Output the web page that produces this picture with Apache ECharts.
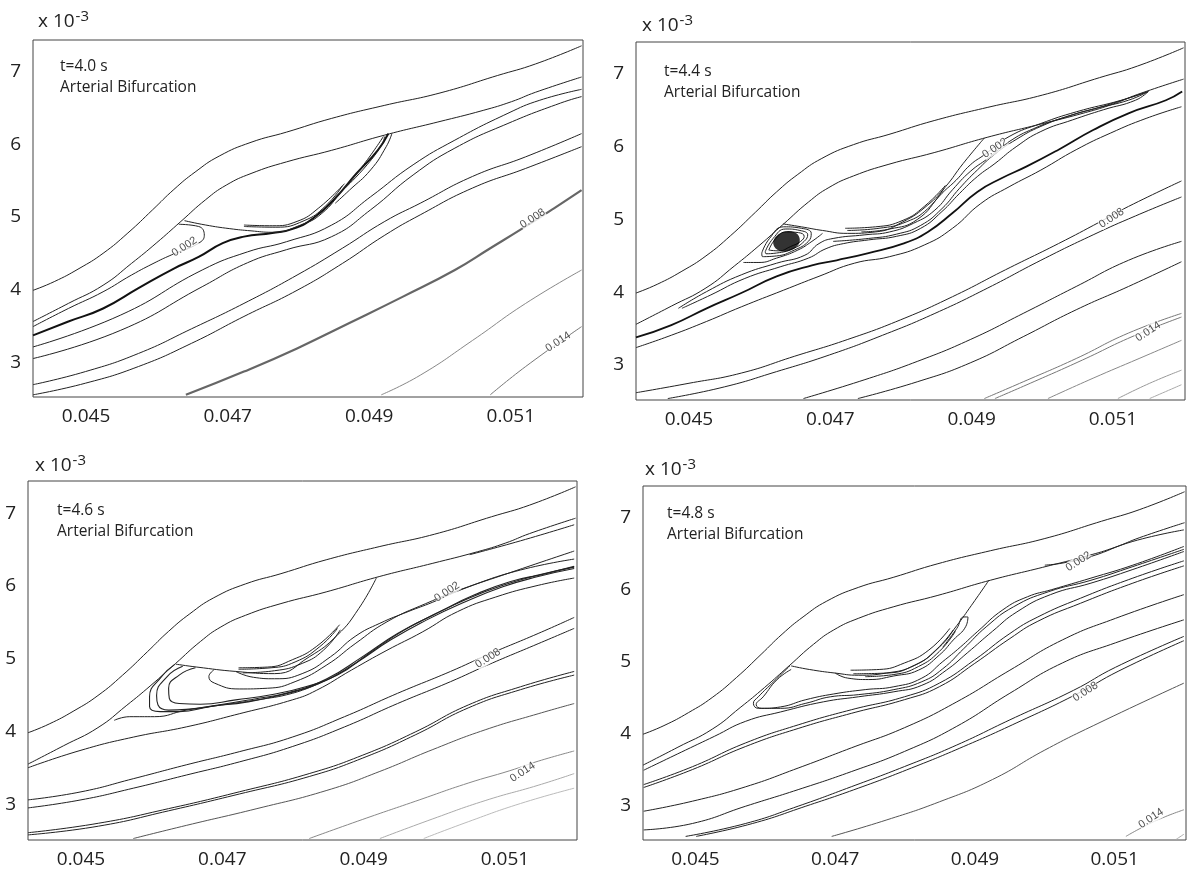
<!DOCTYPE html>
<html><head><meta charset="utf-8">
<style>html,body{margin:0;padding:0;background:#fff}#c{width:1200px;height:873px}</style>
<script src="https://cdn.jsdelivr.net/npm/echarts@6/dist/echarts.min.js"></script>
</head><body><div id="c"></div>
<script>
// All coordinates are data values: x and y in units of 10^-3.
const xTicks=[45,47,49,51];
const yTicks=[3,4,5,6,7];
const times=['t=4.0 s','t=4.4 s','t=4.6 s','t=4.8 s'];
const subtitle='Arterial Bifurcation';
const contourNames=['0.002','0.008','0.014'];

const wallTop=[[44.25,3.99],[44.55,4.11],[44.9,4.29],[45.24,4.5],[45.59,4.78],[45.94,5.1],[46.24,5.38],[46.54,5.62],[46.88,5.84],[47.33,6.03],[47.83,6.17],[48.47,6.36],[49.22,6.54],[50.0,6.71],[50.81,6.95],[51.35,7.11],[52.0,7.36]];
const wallLower=[[44.25,3.56],[44.75,3.81],[45.24,4.06],[45.64,4.36],[45.99,4.64],[46.34,4.94],[46.69,5.24],[46.98,5.44],[47.33,5.6],[47.83,5.76],[48.47,5.92],[49.22,6.13],[49.97,6.31],[50.61,6.47],[51.01,6.59],[51.35,6.72],[52.0,6.93]];

const p1Lines=[
 [[44.25,3.49],[44.75,3.74],[45.24,3.97],[45.64,4.2],[45.99,4.38],[46.21,4.48],[46.59,4.64],[46.67,4.75],[46.59,4.87],[46.31,4.9]],
 [[44.25,3.37],[44.75,3.56],[45.24,3.74],[45.74,4.02],[46.24,4.29],[46.59,4.45],[46.93,4.64],[47.23,4.73],[47.63,4.78],[47.93,4.84],[48.23,5.0],[48.52,5.26],[48.82,5.6],[49.12,5.92],[49.27,6.15]],
 [[46.39,4.95],[46.69,4.89],[47.03,4.84],[47.33,4.81],[47.63,4.79],[48.03,4.89],[48.33,5.05],[48.62,5.37],[48.92,5.72],[49.2,6.11]],
 [[47.23,4.89],[47.63,4.88],[47.98,4.94],[48.28,5.12],[48.65,5.46]],
 [[47.23,4.87],[47.68,4.86],[48.08,4.95],[48.38,5.15],[48.62,5.43]],
 [[49.32,6.15],[49.24,5.97],[49.02,5.65],[48.72,5.37],[48.52,5.19]],
 [[49.22,6.11],[49.17,5.99],[48.97,5.72],[48.67,5.41]],
 [[44.25,3.21],[45.49,3.65],[46.64,4.27],[47.28,4.52],[47.83,4.66],[48.47,4.89],[49.02,5.28],[49.62,5.72],[50.21,6.06],[50.96,6.43],[51.41,6.61],[52.0,6.76]],
 [[44.25,3.05],[45.49,3.44],[46.64,4.04],[47.28,4.37],[47.83,4.55],[48.47,4.73],[49.02,5.1],[49.62,5.58],[50.21,5.95],[50.96,6.29],[51.7,6.57],[52.0,6.66]],
 [[44.25,2.69],[44.99,2.87],[45.74,3.12],[46.49,3.46],[47.23,3.81],[47.98,4.2],[48.62,4.57],[49.22,4.94],[49.72,5.19],[50.46,5.56],[51.21,5.83],[52.0,6.15]],
 [[44.25,2.55],[44.99,2.71],[45.74,2.94],[46.49,3.26],[47.23,3.63],[47.98,3.99],[48.62,4.36],[49.22,4.75],[49.72,5.03],[50.46,5.4],[51.21,5.67],[52.0,5.97]],
 [[46.41,2.55],[47.23,2.87],[47.98,3.19],[48.72,3.54],[49.47,3.9],[50.21,4.27],[50.71,4.57],[51.16,4.84],[51.61,5.12],[52.0,5.37]],
 [[49.17,2.55],[49.72,2.82],[50.46,3.3],[51.21,3.81],[52.0,4.27]],
 [[50.71,2.55],[51.21,2.94],[52.0,3.49]]
];
const p1LabelPos=[[46.39,4.59],[51.31,4.98],[51.67,3.28]];

const p2Lines=[
 [[44.85,3.78],[45.25,4.01],[45.74,4.24],[46.24,4.4],[46.64,4.51],[46.84,4.67],[47.04,4.74],[47.49,4.79],[47.84,4.83],[48.18,4.95],[48.48,5.13],[48.73,5.41],[48.98,5.66],[49.23,5.84],[49.53,6.07],[49.88,6.25],[50.33,6.41],[50.77,6.53],[51.22,6.64],[51.5,6.76]],
 [[44.9,3.78],[45.3,3.96],[45.79,4.19],[46.29,4.35],[46.69,4.47],[46.94,4.6],[47.19,4.67],[47.54,4.72],[47.94,4.77],[48.28,4.88],[48.58,5.11],[48.83,5.36],[49.08,5.59],[49.33,5.77],[49.63,6.0],[49.98,6.21],[50.43,6.37],[50.87,6.51],[51.32,6.64],[51.5,6.76]],
 [[47.04,4.7],[47.54,4.74],[47.94,4.8],[48.28,4.92],[48.58,5.15],[48.83,5.43],[49.08,5.68],[49.33,5.9],[49.63,6.1],[49.98,6.28],[50.43,6.44],[50.87,6.56],[51.5,6.76]],
 [[46.33,4.94],[46.59,4.9],[46.89,4.85],[47.24,4.81],[47.64,4.83],[48.03,4.97],[48.38,5.2],[48.63,5.45],[48.88,5.77],[49.18,6.12]],
 [[47.21,4.88],[47.64,4.9],[48.03,4.99],[48.33,5.18],[48.63,5.47]],
 [[47.24,4.85],[47.69,4.88],[48.08,4.97],[48.38,5.15],[48.61,5.43]],
 [[47.44,4.83],[47.84,4.87],[48.23,5.0],[48.58,5.36],[48.78,5.54],[48.98,5.75],[49.18,5.89],[49.53,6.14],[49.98,6.32],[50.48,6.48],[51.12,6.64],[51.5,6.76]],
 [[45.77,4.41],[45.99,4.41],[46.24,4.47],[46.54,4.58],[46.74,4.7],[46.89,4.81]],
 [[46.03,4.54],[46.14,4.74],[46.34,4.9],[46.59,4.88],[46.73,4.81],[46.69,4.7],[46.49,4.58],[46.24,4.5],[46.04,4.49],[46.03,4.54]],
 [[46.08,4.56],[46.19,4.74],[46.37,4.87],[46.57,4.85],[46.68,4.79],[46.63,4.7],[46.47,4.6],[46.24,4.54],[46.09,4.53],[46.08,4.56]],
 [[46.13,4.58],[46.23,4.74],[46.38,4.83],[46.55,4.82],[46.63,4.77],[46.58,4.7],[46.44,4.63],[46.27,4.57],[46.13,4.58]],
 [[44.25,3.38],[44.75,3.55],[45.25,3.78],[45.74,3.99],[46.24,4.22],[46.74,4.37],[47.09,4.44],[47.54,4.54],[48.03,4.67],[48.38,4.83],[48.73,5.09],[49.08,5.38],[49.43,5.57],[49.78,5.73],[50.23,5.96],[50.72,6.23],[51.22,6.46],[51.75,6.64],[51.98,6.76]],
 [[44.25,3.24],[44.75,3.41],[45.25,3.6],[45.74,3.8],[46.34,4.03],[46.84,4.22],[47.34,4.4],[47.84,4.49],[48.33,4.65],[48.73,4.88],[49.13,5.22],[49.53,5.45],[49.98,5.68],[50.48,5.96],[50.97,6.19],[51.47,6.39],[51.97,6.55]],
 [[44.25,2.62],[45.0,2.75],[45.74,2.89],[46.49,3.12],[47.24,3.35],[47.99,3.62],[48.73,3.94],[49.48,4.31],[50.23,4.67],[50.82,4.97],[51.22,5.18],[51.97,5.53]],
 [[44.7,2.54],[45.5,2.7],[46.24,2.91],[46.99,3.14],[47.74,3.41],[48.48,3.71],[49.23,4.06],[49.98,4.44],[50.72,4.79],[51.32,5.05],[51.97,5.31]],
 [[46.62,2.54],[47.49,2.8],[48.23,3.05],[48.98,3.35],[49.73,3.71],[50.48,4.08],[51.22,4.44],[51.97,4.7]],
 [[47.39,2.54],[48.23,2.77],[48.98,3.03],[49.73,3.39],[50.48,3.76],[51.22,4.08],[51.97,4.42]],
 [[49.18,2.54],[49.73,2.77],[50.48,3.09],[51.22,3.44],[51.97,3.71]],
 [[49.33,2.54],[49.83,2.75],[50.57,3.07],[51.27,3.39],[51.97,3.66]],
 [[50.08,2.54],[50.72,2.82],[51.37,3.09],[51.97,3.34]],
 [[51.07,2.54],[51.52,2.75],[51.97,2.93]],
 [[51.52,2.54],[51.97,2.73]]
];
const p2LabelPos=[[49.33,5.98],[50.98,5.02],[51.5,3.46]];
const p2Vortex=[[46.38,4.7]];

const p3Lines=[
 [[44.25,3.51],[45.0,3.75],[45.74,3.93],[46.49,4.07],[47.24,4.25],[47.99,4.44],[48.33,4.57],[48.83,4.85],[49.33,5.12],[49.83,5.37],[50.33,5.65],[50.87,5.85],[51.47,6.01],[51.98,6.11]],
 [[46.32,4.92],[46.14,4.76],[45.97,4.48],[45.97,4.35],[46.12,4.28],[46.39,4.28],[46.84,4.35],[47.34,4.41],[47.84,4.51],[48.38,4.67],[48.88,4.94],[49.38,5.26],[49.88,5.53],[50.38,5.76],[50.97,5.99],[51.47,6.13],[51.98,6.24]],
 [[46.44,4.9],[46.22,4.76],[46.07,4.5],[46.09,4.37],[46.24,4.3],[46.49,4.31],[46.94,4.37],[47.44,4.45],[47.94,4.54],[48.48,4.73],[48.98,5.03],[49.48,5.35],[49.98,5.6],[50.48,5.83],[50.97,6.01],[51.47,6.15],[51.98,6.26]],
 [[46.62,4.88],[46.39,4.78],[46.24,4.6],[46.25,4.46],[46.39,4.39],[46.69,4.38],[47.19,4.44],[47.69,4.51],[48.18,4.62],[48.63,4.78],[49.08,5.08],[49.58,5.4],[50.08,5.65],[50.57,5.88],[51.07,6.06],[51.57,6.17],[51.98,6.27]],
 [[46.88,4.85],[46.81,4.76],[46.89,4.67],[47.24,4.59],[47.64,4.6],[48.03,4.69],[48.48,4.92],[48.88,5.21],[49.33,5.51],[49.88,5.76],[50.48,5.99],[51.22,6.22],[51.98,6.37]],
 [[47.19,4.83],[47.44,4.75],[47.74,4.73],[48.13,4.8],[48.53,5.03],[48.88,5.31],[49.23,5.49],[49.63,5.65],[49.98,5.78],[50.38,5.95],[50.97,6.15],[51.98,6.48]],
 [[46.34,4.93],[46.64,4.89],[47.19,4.83],[47.74,4.8],[48.23,5.03],[48.63,5.33],[48.93,5.69],[49.18,6.11]],
 [[47.23,4.88],[47.64,4.89],[47.99,4.99],[48.33,5.17],[48.66,5.47]],
 [[47.23,4.86],[47.69,4.88],[48.03,4.96],[48.38,5.17],[48.63,5.42]],
 [[47.29,4.81],[47.74,4.84],[48.13,4.94],[48.43,5.12],[48.67,5.4]],
 [[45.47,4.16],[45.69,4.21],[46.04,4.21],[46.49,4.3],[46.99,4.37],[47.49,4.44],[47.99,4.53],[48.38,4.67]],
 [[50.5,6.43],[51.22,6.62],[51.98,6.84]],
 [[44.25,3.07],[45.0,3.18],[45.74,3.36],[46.49,3.55],[47.24,3.73],[47.99,3.93],[48.73,4.21],[49.48,4.53],[50.23,4.83],[50.76,5.06],[51.47,5.35],[51.98,5.57]],
 [[44.25,2.96],[45.0,3.07],[45.74,3.23],[46.49,3.41],[47.24,3.59],[47.99,3.8],[48.73,4.07],[49.48,4.39],[50.23,4.69],[50.76,4.92],[51.47,5.21],[51.98,5.42]],
 [[44.25,2.62],[45.25,2.75],[46.24,2.95],[47.24,3.18],[48.23,3.43],[48.98,3.68],[49.73,4.0],[50.48,4.37],[51.22,4.62],[51.98,4.83]],
 [[44.25,2.59],[45.25,2.71],[46.24,2.92],[47.24,3.15],[48.23,3.39],[48.98,3.64],[49.73,3.96],[50.48,4.33],[51.22,4.58],[51.98,4.78]],
 [[45.74,2.54],[46.49,2.72],[47.49,2.95],[48.48,3.2],[49.23,3.46],[49.98,3.76],[50.72,4.03],[51.47,4.25],[51.98,4.39]],
 [[48.23,2.54],[48.98,2.8],[49.73,3.05],[50.48,3.3],[51.07,3.47],[51.47,3.6],[51.98,3.74]],
 [[49.23,2.54],[49.98,2.81],[50.72,3.06],[51.47,3.27],[51.98,3.43]],
 [[49.85,2.54],[50.48,2.77],[51.22,3.02],[51.98,3.23]]
];
const p3LabelPos=[[50.18,5.92],[50.76,5.01],[51.25,3.45]];

const p4Lines=[
 [[50.0,6.34],[50.26,6.37],[50.66,6.46],[51.26,6.67],[51.99,6.83]],
 [[46.37,4.94],[46.63,4.89],[47.0,4.84],[47.33,4.81],[47.73,4.84],[48.14,4.95],[48.49,5.2],[48.74,5.5],[48.92,5.74],[49.2,6.13]],
 [[47.22,4.88],[47.63,4.89],[47.99,4.98],[48.34,5.16],[48.64,5.46]],
 [[47.26,4.83],[47.73,4.84],[48.14,4.95],[48.44,5.16],[48.69,5.44]],
 [[47.43,4.79],[47.84,4.82],[48.19,4.93],[48.49,5.14],[48.72,5.42]],
 [[47.0,4.84],[47.18,4.77],[47.48,4.75],[47.84,4.8],[48.19,4.88],[48.49,5.09],[48.69,5.3],[48.87,5.49],[48.9,5.62],[48.84,5.62],[48.74,5.46],[48.54,5.2]],
 [[46.37,4.89],[46.17,4.75],[45.97,4.51],[45.87,4.4],[45.95,4.35],[46.22,4.37],[46.58,4.47],[46.98,4.55],[47.43,4.61],[47.84,4.65],[48.24,4.77],[48.54,5.0],[48.79,5.2],[49.04,5.42],[49.4,5.72],[49.75,5.9],[50.1,6.0],[50.66,6.16],[51.26,6.34],[51.99,6.6]],
 [[46.35,4.94],[46.12,4.72],[45.9,4.51],[45.83,4.42],[45.9,4.35],[46.22,4.35],[46.58,4.42],[46.93,4.51],[47.33,4.54],[47.84,4.61],[48.24,4.72],[48.54,4.9],[48.84,5.18],[49.17,5.49],[49.55,5.76],[50.05,5.97],[50.66,6.13],[51.26,6.32],[51.99,6.56]],
 [[44.26,3.49],[44.86,3.77],[45.27,3.96],[45.72,4.17],[46.22,4.3],[46.83,4.44],[47.33,4.51],[47.84,4.58],[48.24,4.67],[48.59,4.88],[48.89,5.12],[49.25,5.42],[49.6,5.69],[50.08,5.93],[50.66,6.09],[51.26,6.28],[51.99,6.53]],
 [[44.26,3.29],[44.96,3.54],[45.72,3.87],[46.47,4.12],[47.23,4.33],[47.99,4.51],[48.49,4.7],[48.99,5.02],[49.5,5.39],[49.9,5.62],[50.51,5.88],[51.26,6.16],[51.99,6.4]],
 [[44.26,3.25],[44.96,3.5],[45.72,3.82],[46.47,4.07],[47.23,4.28],[47.99,4.47],[48.49,4.65],[48.99,4.97],[49.5,5.32],[49.9,5.56],[50.51,5.81],[51.26,6.09],[51.99,6.33]],
 [[44.26,2.92],[44.96,3.06],[45.72,3.26],[46.47,3.52],[47.23,3.8],[47.99,4.08],[48.74,4.44],[49.5,4.88],[50.25,5.3],[51.01,5.6],[51.99,5.93]],
 [[44.26,2.66],[44.96,2.75],[45.72,2.99],[46.47,3.22],[47.23,3.47],[47.99,3.75],[48.74,4.1],[49.5,4.56],[50.25,4.98],[51.01,5.26],[51.99,5.58]],
 [[44.86,2.57],[45.72,2.75],[46.47,2.99],[47.23,3.26],[47.99,3.54],[48.74,3.84],[49.5,4.19],[50.41,4.6],[51.01,4.92],[51.99,5.35]],
 [[45.01,2.57],[45.82,2.75],[46.58,2.99],[47.33,3.24],[48.09,3.52],[48.84,3.82],[49.6,4.15],[50.46,4.55],[51.06,4.87],[51.99,5.29]],
 [[46.95,2.57],[47.74,2.8],[48.49,3.05],[49.25,3.36],[50.0,3.77],[50.76,4.14],[51.99,4.7]],
 [[51.16,2.57],[51.57,2.78],[51.99,2.94]],
 [[51.88,2.53],[51.99,2.6]]
];
const p4LabelPos=[[50.48,6.39],[50.58,4.58],[51.52,2.82]];

// ---- layout and styling ----
const xRange=[44.25,52.02], yRange=[2.52,7.44];
const frames=[
 {l:33,t:40,r:583,b:397,note:[60,59],exp:[38,9],dy:2},
 {l:636,t:42,r:1185,b:400,note:[664,64],exp:[642,13],dy:4},
 {l:28,t:481,r:577,b:840,note:[57,503],exp:[35,453],dy:2},
 {l:643,t:486,r:1186,b:840,note:[667,506],exp:[645,457],dy:2}
];
const allLines=[p1Lines,p2Lines,p3Lines,p4Lines];
const allLabels=[p1LabelPos,p2LabelPos,p3LabelPos,p4LabelPos];
// index -> [width,color] overrides
const heavy=[
 {1:[2,'#111'],11:[2.2,'#666'],12:[1,'#888'],13:[1,'#777']},
 {11:[1.8,'#111'],17:[1,'#777'],18:[1,'#777'],19:[1,'#888'],20:[1,'#999'],21:[1,'#aaa']},
 {1:[1.1,'#222'],2:[1.1,'#222'],3:[1.1,'#222'],16:[1,'#555'],17:[1,'#888'],18:[1,'#aaa'],19:[1,'#bbb']},
 {15:[1,'#555'],16:[1,'#888'],17:[1,'#aaa']}
];
const grids=[],xAxes=[],yAxes=[],series=[],titles=[];
const base={type:'line',showSymbol:false,symbol:'none',smooth:0.5,silent:true,animation:false,z:2};
frames.forEach((f,i)=>{
 grids.push({left:f.l,top:f.t,width:f.r-f.l,height:f.b-f.t,show:true,borderColor:'#444',borderWidth:1,backgroundColor:'#fff'});
 const axisFont={fontFamily:'Open Sans',fontSize:19,color:'#222'};
 xAxes.push({type:'value',gridIndex:i,min:xRange[0],max:xRange[1],axisLine:{show:false},axisTick:{show:false},splitLine:{show:false},
   axisLabel:Object.assign({customValues:xTicks,margin:10,formatter:v=>(v/1000).toFixed(3)},axisFont)});
 yAxes.push({type:'value',gridIndex:i,min:yRange[0],max:yRange[1],axisLine:{show:false},axisTick:{show:false},splitLine:{show:false},
   axisLabel:Object.assign({customValues:yTicks,margin:12,padding:[f.dy*2,0,0,0],formatter:v=>String(v)},axisFont)});
 const add=(data,w,c)=>series.push(Object.assign({},base,{xAxisIndex:i,yAxisIndex:i,data:data,lineStyle:{width:w,color:c}}));
 add(wallTop,1,'#222'); add(wallLower,1,'#222');
 allLines[i].forEach((d,k)=>{const h=heavy[i][k]||[1,'#222'];add(d,h[0],h[1]);});
 series.push({type:'scatter',xAxisIndex:i,yAxisIndex:i,symbolSize:1,silent:true,animation:false,z:5,itemStyle:{color:'transparent'},
   data:allLabels[i].map((p,k)=>({value:p,name:contourNames[k]})),
   label:{show:true,position:'inside',formatter:'{b}',rotate:33,fontFamily:'Liberation Sans',fontSize:11,color:'#222',backgroundColor:'#fff',padding:0}});
 const noteStyle={fontFamily:'Open Sans',fontSize:15.5,fontWeight:'normal',color:'#222'};
 titles.push({left:f.note[0],top:f.note[1],text:times[i],textStyle:noteStyle,padding:0});
 titles.push({left:f.note[0],top:f.note[1]+21,text:subtitle,textStyle:noteStyle,padding:0});
 titles.push({left:f.exp[0],top:f.exp[1],padding:0,text:'x 10{s|-3}',textStyle:{fontFamily:'Open Sans',fontSize:19,fontWeight:'normal',color:'#222',
   rich:{s:{fontFamily:'Open Sans',fontSize:15,color:'#222',verticalAlign:'top',padding:[0,0,10,1]}}}});
});
series.push({type:'scatter',xAxisIndex:1,yAxisIndex:1,data:p2Vortex,symbol:'circle',symbolSize:[27,20],symbolRotate:15,silent:true,animation:false,z:3,itemStyle:{color:'#000'}});
const chart=echarts.init(document.getElementById('c'),null,{renderer:'canvas'});
chart.setOption({animation:false,backgroundColor:'#fff',title:titles,grid:grids,xAxis:xAxes,yAxis:yAxes,series:series,tooltip:{show:false},legend:{show:false}});
</script></body></html>
